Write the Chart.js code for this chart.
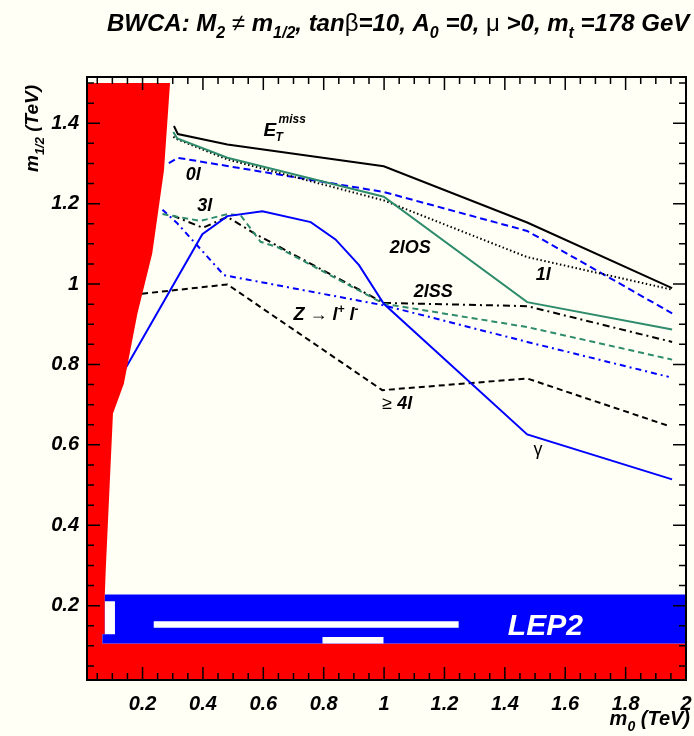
<!DOCTYPE html>
<html>
<head>
<meta charset="utf-8">
<script src="https://cdn.jsdelivr.net/npm/chart.js@4.4.0/dist/chart.umd.min.js"></script>
<style>
  html, body { margin: 0; padding: 0; background: #fffff5; }
</style>
</head>
<body>
<canvas id="chart" width="694" height="736"></canvas>
<script>
// Reach contours, m0 (TeV) vs m1/2 (TeV)
const etMissX = [0.304, 0.317, 0.481, 0.999, 1.474, 1.954];
const etMissY = [1.393, 1.373, 1.347, 1.293, 1.153, 0.990];

const osX = [0.302, 0.315, 0.481, 0.999, 1.474, 1.954];
const osY = [1.378, 1.362, 1.314, 1.217, 0.955, 0.887];

const oneLepX = [0.302, 0.315, 0.481, 0.999, 1.474, 1.954];
const oneLepY = [1.366, 1.360, 1.310, 1.208, 1.067, 0.986];

const zeroLepX = [0.287, 0.317, 0.999, 1.474, 1.954];
const zeroLepY = [1.301, 1.314, 1.229, 1.132, 0.927];

const gammaX = [0.100, 0.398, 0.481, 0.597, 0.757, 0.839, 0.917, 0.999, 1.474, 1.954];
const gammaY = [0.733, 1.124, 1.169, 1.181, 1.154, 1.111, 1.047, 0.951, 0.626, 0.514];

const threeLepX = [0.266, 0.392, 0.481, 0.525, 0.591, 0.646, 0.999, 1.474, 1.954];
const threeLepY = [1.174, 1.157, 1.174, 1.171, 1.105, 1.092, 0.951, 0.893, 0.812];

const ssX = [0.300, 0.400, 0.481, 0.570, 0.999, 1.474, 1.954];
const ssY = [1.170, 1.140, 1.167, 1.126, 0.953, 0.945, 0.856];

const zllX = [0.266, 0.315, 0.470, 0.999, 1.474, 1.943];
const zllY = [1.185, 1.151, 1.022, 0.947, 0.856, 0.769];

const fourLepX = [0.100, 0.199, 0.481, 0.994, 1.474, 1.943];
const fourLepY = [0.965, 0.976, 0.999, 0.736, 0.765, 0.647];

// excluded regions
const thX = [0.016, 0.016, 0.291, 0.271, 0.232, 0.183, 0.138, 0.102, 0.078, 0.075, 0.075, 0.067, 0.067, 2.0, 2.0];
const thY = [0.015, 1.500, 1.500, 1.283, 1.076, 0.927, 0.752, 0.678, 0.288, 0.2276, 0.129, 0.129, 0.1057, 0.1057, 0.015];

const lepX = [0.067, 0.067, 0.075, 0.075, 2.0, 2.0];
const lepY = [0.1057, 0.129, 0.129, 0.2276, 0.2276, 0.1057];

const gapAX = [0.0755, 0.0755, 0.1086, 0.1086];
const gapAY = [0.129, 0.211, 0.211, 0.129];
const gapBX = [0.237, 0.237, 1.247, 1.247];
const gapBY = [0.145, 0.161, 0.161, 0.145];
const gapCX = [0.796, 0.796, 0.998, 0.998];
const gapCY = [0.1057, 0.122, 0.122, 0.1057];

const xTicks = [0.2, 0.4, 0.6, 0.8, 1.0, 1.2, 1.4, 1.6, 1.8, 2.0];
const yTicks = [0.2, 0.4, 0.6, 0.8, 1.0, 1.2, 1.4];

const FAM = '"Liberation Sans", Arial, Helvetica, sans-serif';
const RED = '#ff0000';
const BLUE = '#0000ff';
const GREEN = '#2e8b6b';

const pts = (xs, ys) => xs.map((x, i) => ({ x: x, y: ys[i] }));

function curve(xs, ys, color, dash) {
    return {
        data: pts(xs, ys),
        borderColor: color,
        borderWidth: 2,
        borderDash: dash,
        pointRadius: 0,
        fill: false,
        tension: 0,
        order: 5
    };
}

function patch(xs, ys, color, order) {
    return {
        data: pts(xs, ys),
        borderWidth: 0,
        borderColor: color,
        backgroundColor: color,
        pointRadius: 0,
        fill: 'shape',
        tension: 0,
        order: order
    };
}

function fnt(size, kind) {
    return (kind === 'n' ? '' : 'italic bold ') + size + 'px ' + FAM;
}

// parts: [text, kind]; kind 'b' bold italic, 'n' normal, 'sub', 'sup'
function richText(ctx, x, y, parts, size, align) {
    const pieces = parts.map(([t, k]) => {
        const small = (k === 'sub' || k === 'sup');
        const sz = small ? Math.round(size * 0.68) : size;
        ctx.font = fnt(sz, k === 'n' ? 'n' : 'b');
        return { t, font: ctx.font, w: ctx.measureText(t).width, dy: k === 'sub' ? size * 0.3 : (k === 'sup' ? -size * 0.42 : 0) };
    });
    const total = pieces.reduce((s, p) => s + p.w, 0);
    let cx = align === 'right' ? x - total : (align === 'center' ? x - total / 2 : x);
    ctx.textBaseline = 'alphabetic';
    ctx.textAlign = 'left';
    pieces.forEach(p => {
        ctx.font = p.font;
        ctx.fillText(p.t, cx, y + p.dy);
        cx += p.w;
    });
    return total;
}

const labels = [
    { x: 0.343, y: 1.260, parts: [['0l', 'b']] },
    { x: 0.381, y: 1.182, parts: [['3l', 'b']] },
    { x: 1.019, y: 1.077, parts: [['2lOS', 'b']] },
    { x: 1.502, y: 1.009, parts: [['1l', 'b']] },
    { x: 1.098, y: 0.968, parts: [['2lSS', 'b']] },
    { x: 0.700, y: 0.910, parts: [['Z', 'b'], [' \u2192 ', 'n'], ['l', 'b'], ['+', 'sup'], [' l', 'b'], ['-', 'sup']] },
    { x: 0.994, y: 0.690, parts: [['\u2265 ', 'n'], ['4l', 'b']] },
    { x: 1.495, y: 0.574, parts: [['\u03b3', 'n']] }
];

const decor = {
    id: 'decor',
    afterDatasetsDraw(chart) {
        const { ctx, chartArea: a, scales: { x, y } } = chart;
        ctx.save();
        ctx.fillStyle = '#000';
        ctx.strokeStyle = '#000';
        ctx.lineWidth = 1.5;

        // minor / major ticks, drawn inward on all four sides
        for (let i = 0; i <= 40; i++) {
            const v = i * 0.05;
            const major = i % 4 === 0;
            const len = major ? 13 : 7;
            if (v >= x.min && v <= x.max) {
                const px = x.getPixelForValue(v);
                ctx.beginPath();
                ctx.moveTo(px, a.bottom); ctx.lineTo(px, a.bottom - len);
                ctx.moveTo(px, a.top); ctx.lineTo(px, a.top + len);
                ctx.stroke();
            }
            if (v >= y.min && v <= y.max) {
                const py = y.getPixelForValue(v);
                ctx.beginPath();
                ctx.moveTo(a.left, py); ctx.lineTo(a.left + len, py);
                ctx.moveTo(a.right, py); ctx.lineTo(a.right - len, py);
                ctx.stroke();
            }
        }
        ctx.lineWidth = 2;
        ctx.strokeRect(a.left, a.top, a.right - a.left, a.bottom - a.top);

        // curve labels
        labels.forEach(l => {
            richText(ctx, x.getPixelForValue(l.x), y.getPixelForValue(l.y), l.parts, 18, 'left');
        });
        const ex = x.getPixelForValue(0.601), ey = y.getPixelForValue(1.367);
        ctx.font = fnt(19, 'b');
        ctx.fillText('E', ex, ey);
        ctx.font = fnt(12, 'b');
        ctx.fillText('T', ex + 12, ey + 5);
        ctx.fillText('miss', ex + 15, ey - 13);

        ctx.fillStyle = '#fff';
        ctx.font = fnt(30, 'b');
        ctx.fillText('LEP2', x.getPixelForValue(1.41), y.getPixelForValue(0.127));

        // title and axis titles
        ctx.fillStyle = '#000';
        richText(ctx, 107, 31, [
            ['BWCA: M', 'b'], ['2', 'sub'], [' ', 'b'], ['\u2260', 'n'], [' m', 'b'], ['1/2', 'sub'],
            [', tan', 'b'], ['\u03b2', 'n'], ['=10, A', 'b'], ['0', 'sub'], [' =0, ', 'b'], ['\u03bc', 'n'],
            [' >0, m', 'b'], ['t', 'sub'], [' =178 GeV', 'b']
        ], 24, 'left');

        richText(ctx, 690, 725, [['m', 'b'], ['0', 'sub'], [' (TeV)', 'b']], 20, 'right');

        ctx.translate(38, 172);
        ctx.rotate(-Math.PI / 2);
        richText(ctx, 0, 0, [['m', 'b'], ['1/2', 'sub'], [' (TeV)', 'b']], 19, 'left');
        ctx.restore();
    }
};

const tickFont = { family: FAM, size: 20, style: 'italic', weight: 'bold' };
const fmt = v => String(Math.round(v * 10) / 10);

new Chart(document.getElementById('chart'), {
    type: 'line',
    data: {
        datasets: [
            patch(gapAX, gapAY, '#ffffff', 0),
            patch(gapBX, gapBY, '#ffffff', 0),
            patch(gapCX, gapCY, '#ffffff', 0),
            patch(lepX, lepY, BLUE, 1),
            patch(thX, thY, RED, 2),
            curve(etMissX, etMissY, '#000000', []),
            curve(osX, osY, GREEN, []),
            curve(oneLepX, oneLepY, '#000000', [1.5, 2.5]),
            curve(zeroLepX, zeroLepY, BLUE, [7, 4]),
            curve(gammaX, gammaY, BLUE, []),
            curve(threeLepX, threeLepY, GREEN, [6, 4]),
            curve(ssX, ssY, '#000000', [7, 4, 2, 4]),
            curve(zllX, zllY, BLUE, [6, 4, 2, 4]),
            curve(fourLepX, fourLepY, '#000000', [6, 4])
        ]
    },
    options: {
        responsive: false,
        animation: false,
        devicePixelRatio: 1,
        layout: { padding: { top: 77, right: 8, left: 0, bottom: 0 } },
        plugins: { legend: { display: false }, tooltip: { enabled: false } },
        scales: {
            x: {
                type: 'linear',
                min: 0.016,
                max: 2.0,
                afterFit: s => { s.height = 56; s.paddingLeft = 0; s.paddingRight = 0; },
                afterBuildTicks: s => { s.ticks = xTicks.map(v => ({ value: v })); },
                grid: { display: false, drawTicks: false },
                border: { display: false },
                ticks: { padding: 12, color: '#000', font: tickFont, callback: fmt, maxRotation: 0, autoSkip: false }
            },
            y: {
                type: 'linear',
                min: 0.015,
                max: 1.515,
                afterFit: s => { s.width = 87; s.paddingTop = 0; s.paddingBottom = 0; },
                afterBuildTicks: s => { s.ticks = yTicks.map(v => ({ value: v })); },
                grid: { display: false, drawTicks: false },
                border: { display: false },
                ticks: { padding: 8, color: '#000', font: tickFont, callback: fmt, autoSkip: false }
            }
        }
    },
    plugins: [decor]
});
</script>
</body>
</html>
